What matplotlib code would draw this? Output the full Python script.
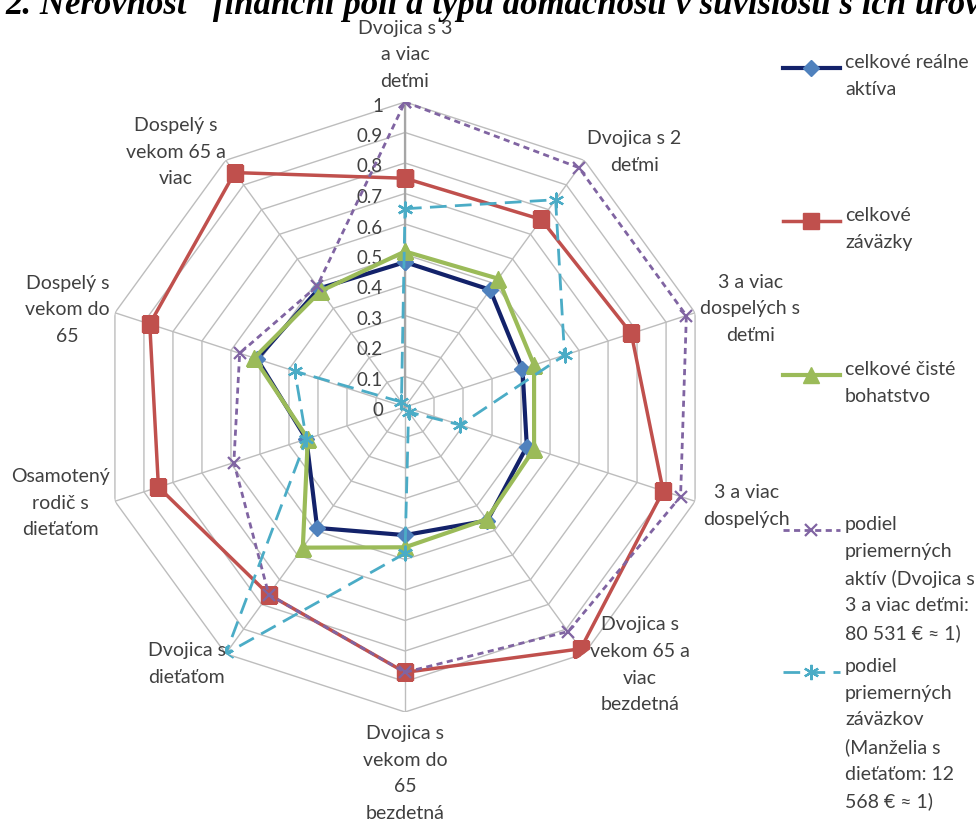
import matplotlib
matplotlib.use("Agg")
import matplotlib.pyplot as plt
import numpy as np
from matplotlib.lines import Line2D

# ---------------- data ----------------
categories = [
    "Dvojica s 3\na viac\ndeťmi",
    "Dvojica s 2\ndeťmi",
    "3 a viac\ndospelých s\ndeťmi",
    "3 a viac\ndospelých",
    "Dvojica s\nvekom 65 a\nviac\nbezdetná",
    "Dvojica s\nvekom do\n65\nbezdetná",
    "Dvojica s\ndieťaťom",
    "Osamotený\nrodič s\ndieťaťom",
    "Dospelý s\nvekom do\n65",
    "Dospelý s\nvekom 65 a\nviac",
]

series_names = [
    "celkové reálne\naktíva",
    "celkové\nzáväzky",
    "celkové čisté\nbohatstvo",
    "podiel\npriemerných\naktív (Dvojica s\n3 a viac deťmi:\n80 531 € ≈ 1)",
    "podiel\npriemerných\nzáväzkov\n(Manželia s\ndieťaťom: 12\n568 € ≈ 1)",
]

realne_aktiva = [0.475, 0.475, 0.405, 0.42, 0.46, 0.42, 0.49, 0.34, 0.51, 0.48]
zavazky       = [0.75, 0.76, 0.78, 0.89, 0.98, 0.87, 0.76, 0.85, 0.88, 0.95]
ciste_bohat   = [0.51, 0.52, 0.445, 0.445, 0.455, 0.46, 0.57, 0.335, 0.52, 0.47]
podiel_aktiv  = [1.00, 0.97, 0.97, 0.95, 0.91, 0.87, 0.76, 0.59, 0.57, 0.49]
podiel_zavaz  = [0.65, 0.84, 0.55, 0.19, 0.02, 0.48, 1.00, 0.34, 0.38, 0.02]

radial_ticks = [0, 0.1, 0.2, 0.3, 0.4, 0.5, 0.6, 0.7, 0.8, 0.9, 1]
radial_tick_labels = ["0", "0.1", "0.2", "0.3", "0.4", "0.5", "0.6", "0.7", "0.8", "0.9", "1"]

title = "2. Nerovnosť  finanční polí a typu domácnosti v súvislosti s ich úrov"

# ---------------- styles ----------------
styles = [
    dict(color="#13226a", lw=3.0, marker="D", ms=8, mfc="#4f81bd", mec="#4f81bd"),
    dict(color="#c0504d", lw=2.5, marker="s", ms=12, mfc="#c0504d", mec="#c0504d"),
    dict(color="#9bbb59", lw=3.0, marker="^", ms=12, mfc="#9bbb59", mec="#9bbb59"),
    dict(color="#8064a2", lw=2.0, marker="x", ms=9, mew=1.6, dashes=(2.2, 1.6)),
    dict(color="#4bacc6", lw=2.0, marker=(6, 2, 0), ms=11, mew=1.6, dashes=(6, 3)),
]
all_series = [realne_aktiva, zavazky, ciste_bohat, podiel_aktiv, podiel_zavaz]

label_font = "Lato"
text_color = "#404040"
grid_color = "#bdbdbd"
label_size = 14
label_ls = 1.68

W, H = 976, 826
fig = plt.figure(figsize=(W / 100, H / 100), dpi=100)
fig.patch.set_facecolor("white")

cx, cy, R = 405, 407, 305
ax = fig.add_axes([(cx - R) / W, (H - cy - R) / H, 2 * R / W, 2 * R / H], projection="polar")
ax.set_theta_zero_location("N")
ax.set_theta_direction(-1)
ax.set_ylim(0, 1)
ax.grid(False)
ax.spines["polar"].set_visible(False)
ax.set_xticks([])
ax.set_yticks([])

N = len(categories)
angles = np.arange(N) * 2 * np.pi / N
closed = np.append(angles, angles[0])

# polygon grid
for v in radial_ticks[1:]:
    ax.plot(closed, [v] * (N + 1), color=grid_color, lw=1.0, zorder=1)
for a in angles:
    ax.plot([a, a], [0, 1], color=grid_color, lw=1.0, zorder=1)
ax.plot([0, 0], [0, 1], color="#a6a6a6", lw=1.6, zorder=1.5)

# radial tick labels
for v, lab in zip(radial_ticks, radial_tick_labels):
    ax.annotate(lab, xy=(0, v), xytext=(-22, -4), textcoords="offset pixels",
                ha="right", va="center", fontsize=13.5, family=label_font,
                color=text_color, zorder=2)

# series
for vals, st in zip(all_series, styles):
    ax.plot(closed, list(vals) + [vals[0]], zorder=3, **st)

# category labels
label_layout = [
    ("center", "bottom", (0, 12)),
    ("left", "center", (3, 8)),
    ("left", "center", (5, 4)),
    ("left", "center", (8, -5)),
    ("left", "center", (6, -11)),
    ("center", "top", (0, -13)),
    ("right", "center", (0, -10)),
    ("right", "center", (-5, -2)),
    ("right", "center", (-5, 3)),
    ("right", "center", (0, 8)),
]
for a, lab, (ha, va, off) in zip(angles, categories, label_layout):
    ax.annotate(lab, xy=(a, 1.0), xytext=off, textcoords="offset pixels",
                ha=ha, va=va, multialignment="center", fontsize=label_size,
                family=label_font, color=text_color, linespacing=label_ls,
                annotation_clip=False)

# manual legend
leg_y = [68, 221, 375, 530, 672]
for name, st, y in zip(series_names, styles, leg_y):
    yf = 1 - y / H
    ln = Line2D([783 / W, 811 / W, 840 / W], [yf, yf, yf], transform=fig.transFigure,
                markevery=[1], **st)
    fig.add_artist(ln)
    fig.text(845 / W, 1 - (y - 14) / H, name, ha="left", va="top",
             fontsize=label_size, family=label_font, color=text_color, linespacing=label_ls)

# title (cut off at the top like the reference)
fig.text(5 / W, 1 - 14 / H, title, ha="left", va="baseline", fontsize=25,
         family="Liberation Serif", fontweight="bold", fontstyle="italic", color="black")

fig.savefig("out.png", dpi=100, facecolor="white")
